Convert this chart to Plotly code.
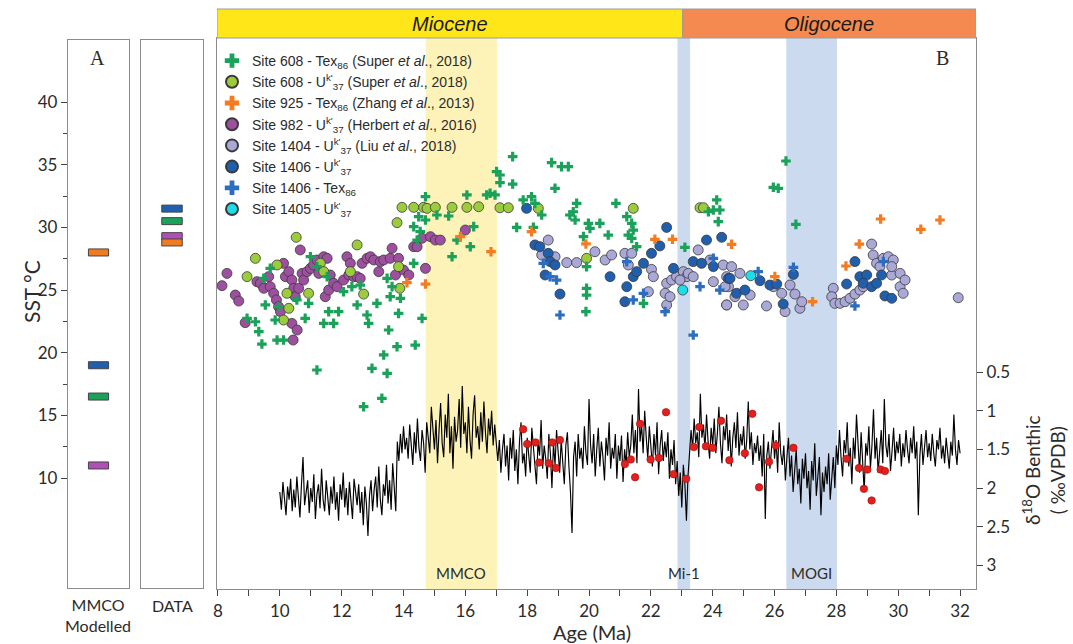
import plotly.graph_objects as go

# ---------------------------------------------------------------- data
# Modelled MMCO SST (panel A) and proxy SST summary (DATA panel), deg C
model_colors = ["#F07C22", "#1F5FAD", "#1AA25A", "#B04FB8"]
model_sst = [28.0, 19.0, 16.5, 11.0]
data_colors = ["#1F5FAD", "#1AA25A", "#B04FB8", "#F07C22"]
data_sst = [31.5, 30.5, 29.3, 28.8]

# Site 608 - TEX86
s608_tex_age = [14.71, 16.05, 14.49, 14.71, 15.08, 15.46, 14.33, 14.54, 14.44, 15.73, 16.16, 15.57, 16.27,
                9.69, 9.48, 8.94, 9.21, 9.32, 9.42, 9.91, 10.12, 9.85, 9.96, 9.53, 10.55, 10.82, 10.93,
                10.99, 11.20, 11.53, 11.58, 11.42, 11.74, 11.90, 12.06, 12.33, 12.60, 12.50, 12.82, 12.87,
                13.14, 13.57, 13.63, 13.84, 13.52, 13.79, 14.38, 14.60, 13.36, 12.98, 13.47, 13.30, 12.71,
                11.20, 13.90, 14.33, 13.47,
                17.53, 17.01, 17.12, 17.12, 17.53, 16.69, 16.80, 16.96, 18.79, 19.11, 19.33, 18.90, 17.87,
                18.14, 18.25, 18.47, 17.66, 18.20, 19.60, 19.49, 19.38, 19.55, 19.98, 20.35, 20.03, 20.62,
                19.82, 19.92, 19.92, 19.92, 19.90, 20.87, 21.22, 21.38, 21.43, 21.27, 21.38, 21.54, 21.76,
                23.10, 24.13, 24.02, 24.23, 24.18, 23.86, 26.37, 25.96, 26.12, 26.69]
s608_tex_sst = [32.45, 32.59, 30.86, 30.59, 30.99, 30.91, 30.06, 29.66, 28.99, 28.99, 28.46, 27.66, 30.06,
                26.73, 25.93, 22.74, 22.47, 21.68, 20.69, 21.01, 21.01, 22.61, 23.67, 23.81, 24.21, 22.74, 23.94,
                27.66, 26.87, 26.07, 23.28, 22.34, 22.34, 23.28, 24.87, 25.27, 25.40, 23.81, 23.01, 22.34,
                23.94, 24.47, 25.27, 23.14, 21.81, 20.48, 20.61, 22.74, 19.82, 18.75, 18.35, 16.36, 15.69,
                18.62, 24.34, 27.13, 25.93,
                35.65, 34.45, 34.18, 33.57, 33.46, 32.59, 32.72, 32.59, 35.17, 34.85, 34.85, 33.12, 32.19,
                32.45, 31.92, 30.99, 30.00, 30.00, 31.92, 31.25, 30.99, 30.59, 30.32, 30.32, 29.92, 29.39,
                29.26, 26.87, 25.14, 24.60, 23.28, 31.92, 30.86, 30.32, 29.79, 29.39, 29.13, 28.46, 23.94,
                28.41, 32.19, 31.39, 31.39, 30.46, 31.25, 35.30, 33.20, 33.12, 30.24]

# Site 608 - UK'37
s608_uk_age = [8.94, 9.21, 9.91, 10.23, 10.29, 10.12, 10.53, 10.93, 11.31, 11.42, 12.28, 12.50, 12.71,
               13.84, 13.88, 13.79, 13.95, 14.33, 14.65, 14.76, 15.03, 15.57, 16.05, 16.43, 17.12, 17.39,
               18.36, 19.92, 21.43, 23.59, 23.70]
s608_uk_sst = [26.07, 27.53, 27.00, 24.74, 23.54, 22.61, 29.21, 24.74, 27.13, 26.47, 26.47, 28.60, 24.68,
               26.87, 25.14, 30.38, 31.60, 31.60, 31.60, 31.52, 31.60, 31.60, 31.60, 31.65, 31.57, 31.57,
               31.52, 27.53, 31.52, 31.57, 31.57]

# Site 925 - TEX86
s925_age = [14.11, 14.71, 15.84, 16.83, 18.14, 19.90, 22.13, 22.70, 24.61, 26.01, 27.23, 28.31, 28.74,
            29.43, 30.73, 31.35]
s925_sst = [25.59, 25.48, 29.26, 28.06, 29.66, 28.68, 29.05, 29.05, 28.65, 26.07, 24.07, 26.92, 28.67,
            30.67, 29.85, 30.59]

# Site 982 - UK'37
s982_age = [8.13, 8.29, 8.56, 8.67, 8.88, 9.26, 9.37, 9.48, 9.64, 9.69, 9.80, 9.89, 9.96, 10.02, 10.12,
            10.18, 10.29, 10.39, 10.45, 10.50, 10.39, 10.43, 10.56, 10.61, 10.66, 10.72, 10.77, 10.88,
            10.99, 11.09, 11.20, 11.26, 11.42, 11.53, 11.47, 11.58, 11.63, 11.74, 11.85, 12.06, 12.17,
            12.23, 12.28, 12.39, 12.50, 12.60, 12.66, 12.82, 12.93, 13.04, 13.20, 13.25, 13.36, 13.57,
            13.63, 13.74, 13.84, 14.00, 14.17, 14.33, 14.44, 14.60, 14.71, 14.87, 15.03, 15.19, 16.00]
s982_sst = [25.35, 26.33, 24.60, 24.12, 22.40, 25.67, 25.54, 25.14, 26.07, 25.27, 24.74, 24.21, 23.67,
            23.28, 27.13, 26.07, 26.47, 25.80, 25.14, 24.47, 22.34, 21.01, 21.81, 25.14, 28.20, 26.33,
            25.80, 26.47, 26.73, 27.00, 27.40, 26.33, 27.66, 27.53, 24.47, 25.00, 26.20, 25.54, 25.27,
            25.80, 27.66, 26.20, 27.13, 26.07, 26.07, 25.93, 27.13, 27.53, 27.66, 27.40, 26.47, 27.27,
            27.40, 27.53, 28.33, 26.20, 27.53, 26.60, 26.20, 28.46, 28.46, 29.13, 26.73, 29.26, 28.99,
            28.99, 29.79]

# Site 1404 - UK'37
s1404_age = [18.68, 18.47, 18.90, 19.28, 19.60, 20.19, 20.52, 20.73, 21.16, 21.38, 21.27, 22.02, 22.08,
             21.92, 22.51, 22.67, 22.83, 23.05, 23.16, 22.46, 22.51, 22.62, 22.94, 23.21, 23.37, 23.53,
             23.91, 24.02, 24.34, 24.51, 24.45,
             24.61, 24.45, 24.40, 24.45, 24.72, 24.88, 24.99, 25.21, 25.74, 25.96, 26.23, 26.50, 26.34,
             26.66, 26.82, 26.88, 27.90, 27.85, 27.95, 28.12, 28.28, 28.44, 28.60, 28.76, 28.87, 29.14,
             29.19, 29.30, 29.52, 29.68, 29.84, 29.79, 30.06, 30.06, 30.16, 30.22, 31.94, 29.79, 29.41]
s1404_sst = [28.99, 27.80, 27.66, 27.19, 27.19, 28.06, 27.40, 27.80, 27.93, 27.93, 27.00, 26.65, 26.07,
             24.87, 25.54, 25.80, 26.07, 26.47, 26.07, 24.74, 23.81, 24.47, 25.80, 26.33, 26.07, 28.20,
             27.40, 25.67, 27.00, 25.27, 23.81,
             26.87, 26.07, 25.27, 23.81, 24.47, 26.33, 23.81, 24.60, 23.73, 25.27, 24.74, 25.40, 23.28,
             24.68, 23.54, 24.07, 25.14, 24.47, 23.94, 23.94, 24.07, 24.34, 24.68, 25.00, 25.27, 28.67,
             27.80, 27.13, 27.53, 27.66, 27.40, 26.20, 26.33, 25.27, 24.74, 25.80, 24.39, 26.87, 26.87]

# Site 1406 - UK'37
s1406_uk_age = [17.98, 18.25, 18.41, 18.68, 18.74, 18.90, 18.58, 19.06, 20.68, 21.22, 21.16, 21.43, 21.54,
                21.76, 22.02, 22.29, 22.51, 22.73, 23.37, 23.64, 23.80, 24.02, 24.29, 24.51,
                24.56, 24.77, 25.04, 25.53, 25.85, 26.07, 26.28, 26.61, 28.60, 28.33, 28.76, 28.98, 28.87,
                29.14, 29.30, 29.46, 29.57, 29.79]
s1406_uk_sst = [31.52, 28.60, 28.46, 27.93, 27.27, 27.00, 26.20, 24.68, 26.07, 25.27, 24.07, 26.07, 26.47,
                27.13, 27.93, 28.52, 30.00, 26.73, 27.27, 27.13, 28.99, 26.87, 29.21, 25.93,
                25.93, 24.74, 25.00, 25.75, 25.40, 25.48, 23.89, 26.25, 27.27, 25.48, 26.07, 26.20, 25.54,
                25.27, 25.54, 26.20, 24.53, 24.34]

# Site 1406 - TEX86
s1406_tex_age = [18.52, 18.95, 19.06, 18.74, 21.22, 21.43, 21.76, 22.46, 23.37, 23.59, 24.02, 24.23,
                 25.47, 26.61, 28.60, 29.52]
s1406_tex_sst = [27.13, 25.80, 23.01, 26.07, 27.27, 24.21, 24.74, 23.28, 21.41, 25.27, 27.53, 25.00,
                 26.47, 26.81, 23.73, 27.27]

# Site 1405 - UK'37
s1405_age = [23.03, 25.23]
s1405_sst = [25.00, 26.15]

# Benthic d18O record (per mil VPDB), one value every 0.05 Myr from 10.0 Ma
d18o_first_age = 10.0
d18o_spacing = 0.05
d18o = [
    2.05, 2.28, 1.92, 2.20, 2.35, 1.98, 2.15, 1.88, 2.30, 2.02,
    2.25, 1.85, 2.12, 2.38, 1.95, 1.60, 2.22, 2.05, 1.90, 2.32,
    2.00, 2.18, 1.82, 2.40, 2.08, 1.95, 2.26, 1.75, 2.15, 2.30,
    1.90, 2.12, 2.35, 1.98, 2.20, 1.85, 2.28, 2.05, 2.42, 1.95,
    2.15, 1.80, 2.25, 2.00, 2.35, 1.92, 2.18, 2.40, 1.88, 2.10,
    2.22, 1.95, 2.32, 2.05, 2.48, 1.98, 2.20, 2.62, 2.10, 1.90,
    2.30, 2.02, 1.85, 2.25, 1.72, 2.15, 2.35, 1.95, 2.10, 1.70,
    2.20, 1.90, 2.28, 1.68, 2.05, 2.30, 1.40, 1.65, 1.30, 1.55,
    1.20, 1.50, 1.35, 1.62, 1.18, 1.45, 1.70, 1.28, 1.55, 1.10,
    1.48, 1.65, 1.25, 1.42, 1.80, 1.15, 1.38, 1.55, 0.95, 1.30,
    1.50, 1.12, 1.68, 1.25, 0.90, 1.42, 1.60, 1.05, 1.35, 0.78,
    1.55, 1.20, 1.75, 1.08, 1.40, 1.25, 0.85, 1.48, 0.68, 1.30,
    1.15, 1.55, 0.95, 1.38, 1.62, 1.05, 0.80, 1.35, 1.20, 1.50,
    1.02, 1.40, 0.88, 1.28, 1.55, 1.10, 1.32, 1.00, 1.45, 1.18,
    1.40, 1.65, 1.38, 1.80, 1.50, 1.30, 1.72, 1.45, 1.90, 1.35,
    1.62, 1.25, 1.78, 1.50, 1.95, 1.40, 1.15, 1.68, 1.55, 1.85,
    1.35, 1.60, 1.80, 1.22, 1.50, 1.70, 1.95, 1.40, 1.58, 1.12,
    1.75, 1.45, 1.62, 1.88, 1.30, 1.55, 2.00, 1.42, 1.70, 1.25,
    1.52, 1.80, 1.38, 1.65, 1.95, 1.45, 1.28, 1.72, 2.05, 2.58,
    1.60, 1.40, 1.85, 1.30, 1.62, 1.48, 1.75, 1.20, 1.55, 1.70,
    0.85, 1.45, 1.68, 1.30, 1.85, 1.50, 1.22, 1.72, 1.40, 1.60,
    1.90, 1.35, 1.58, 1.15, 1.75, 1.48, 1.62, 1.30, 1.88, 1.45,
    1.65, 1.32, 1.92, 1.50, 1.70, 1.28, 1.60, 1.45, 1.05, 1.55,
    1.25, 1.68, 0.72, 1.40, 1.18, 1.55, 1.00, 1.35, 1.62, 1.20,
    1.50, 1.72, 1.30, 1.58, 1.15, 1.82, 1.45, 1.25, 1.65, 1.40,
    1.60, 1.28, 1.88, 1.50, 1.70, 1.38, 1.95, 1.65, 2.10, 1.80,
    2.25, 1.70, 1.95, 2.42, 1.85, 1.60, 1.25, 1.50, 1.10, 1.42,
    1.28, 1.60, 0.78, 1.35, 1.18, 1.50, 1.05, 1.40, 1.62, 1.22,
    1.45, 1.10, 1.55, 1.30, 0.95, 1.42, 1.68, 1.20, 1.38, 1.05,
    1.52, 1.25, 1.72, 1.35, 1.15, 1.48, 1.02, 1.58, 1.30, 1.45,
    1.20, 1.62, 1.38, 0.88, 1.50, 1.28, 1.70, 1.42, 1.55, 1.32,
    1.65, 1.45, 1.85, 1.30, 2.40, 1.58, 1.40, 1.75, 1.50, 1.25,
    1.62, 1.38, 1.80, 1.15, 1.55, 1.70, 1.45, 1.90, 1.60, 1.35,
    1.85, 1.58, 2.05, 1.70, 1.50, 1.95, 1.75, 2.20, 1.62, 1.88,
    1.55, 2.00, 1.78, 2.28, 1.65, 1.90, 1.42, 2.10, 1.85, 1.60,
    2.35, 1.80, 2.05, 1.72, 1.95, 1.55, 2.15, 1.80, 1.60, 2.00,
    1.45, 1.70, 1.25, 1.60, 1.85, 1.38, 1.55, 1.15, 1.72, 1.48,
    1.95, 1.35, 1.62, 1.05, 1.50, 1.80, 1.28, 1.65, 2.05, 1.42,
    1.58, 1.20, 1.75, 1.45, 0.98, 1.62, 1.35, 1.80, 1.50, 1.25,
    1.68, 0.85, 1.45, 1.60, 1.30, 1.78, 1.52, 1.22, 1.65, 1.40,
    1.55, 1.30, 1.72, 1.42, 1.60, 1.25, 1.50, 1.68, 1.35, 1.55,
    1.20, 1.62, 1.40, 2.35, 1.58, 1.30, 1.70, 1.45, 1.25, 1.60,
    1.42, 1.65, 1.30, 1.55, 1.72, 1.38, 1.50, 1.22, 1.62, 1.45,
    1.68, 1.35, 1.55, 1.75, 1.40, 1.58, 1.05, 1.50, 1.70, 1.38,
    1.55,
]
d18o_age = [round(d18o_first_age + i * d18o_spacing, 3) for i in range(len(d18o))]

# Discrete benthic d18O measurements
d18o_pts_age = [17.87, 18.00, 18.27, 18.81, 19.06, 18.39, 18.70, 18.93,
                21.16, 21.35, 21.49, 21.65, 21.99, 22.26, 22.49, 22.73, 23.14, 23.39, 23.57, 23.78,
                24.00, 24.27, 24.54, 25.04, 25.28, 25.50, 25.82, 26.04, 26.61, 28.33, 28.73, 28.89,
                29.00, 29.14, 29.43, 29.57]
d18o_pts = [1.24, 1.43, 1.41, 1.41, 1.38, 1.67, 1.68, 1.74,
            1.69, 1.63, 1.86, 1.17, 1.63, 1.61, 1.02, 1.82, 1.88, 1.47, 1.21, 1.46,
            1.48, 1.13, 1.64, 1.55, 1.04, 1.99, 1.66, 1.45, 1.48, 1.62, 1.74, 2.01,
            1.76, 2.16, 1.76, 1.78]

# Geological epochs and climate events (Ma)
age_min, age_max = 7.968, 32.515
epoch_names = ["Miocene", "Oligocene"]
epoch_edges = [age_min, 23.03, age_max]
epoch_colors = ["#FFE619", "#F58A50"]
event_names = ["MMCO", "Mi-1", "MOGI"]
event_start = [14.72, 22.86, 26.38]
event_end = [17.02, 23.27, 28.02]
event_colors = ["#FDF3B8", "#CCDAEF", "#CCDAEF"]

# ---------------------------------------------------------------- layout helpers
W, H = 1073, 644
def fx(p):
    return p / W
def fy(p):
    return 1 - p / H

AX_FONT = "Lato, 'Open Sans', sans-serif"
LEG_FONT = "'Liberation Sans', Arial, sans-serif"
TXT = "#2b2b2b"
FRAME = "#8c8c8c"

main_y_dom = [fy(589), fy(38)]
side_y_dom = [fy(588), fy(40)]
sst_range = [10 - (589 - 478) / 12.53, 10 + (478 - 38) / 12.53]
side_range = [10 - (588 - 478) / 12.53, 10 + (478 - 40) / 12.53]
d18o_range = [0.5 + (589 - 372) / 77.4, 0.5 + (38 - 372) / 77.4]

fig = go.Figure()

# ---- modelled / data summary bars
bar_half = 0.28
fig.add_trace(go.Bar(x=[0] * len(model_sst), y=[2 * bar_half] * len(model_sst),
                     base=[v - bar_half for v in model_sst], width=0.66,
                     marker=dict(color=model_colors, line=dict(color="#444", width=1)),
                     xaxis="x2", yaxis="y2", showlegend=False, hoverinfo="skip"))
fig.add_trace(go.Bar(x=[0] * len(data_sst), y=[2 * bar_half] * len(data_sst),
                     base=[v - bar_half for v in data_sst], width=0.66,
                     marker=dict(color=data_colors, line=dict(color="#444", width=1)),
                     xaxis="x4", yaxis="y4", showlegend=False, hoverinfo="skip"))

# ---- benthic d18O record
fig.add_trace(go.Scatter(x=d18o_age, y=d18o, mode="lines", yaxis="y3",
                         line=dict(color="#000000", width=1.15),
                         showlegend=False, hoverinfo="skip"))
fig.add_trace(go.Scatter(x=d18o_pts_age, y=d18o_pts, mode="markers", yaxis="y3",
                         marker=dict(color="#E3201B", size=7.5, line=dict(color="#9a1010", width=0.6)),
                         showlegend=False))

# ---- SST proxy series
circ_line = dict(color="#3a3a3a", width=0.8)
series = [
    # name, ages, sst, symbol, colour, legend rank
    ("Site 982 - U<sup>k'</sup><sub>37</sub> (Herbert <i>et al</i>., 2016)", s982_age, s982_sst, "circle", "#9E4FA0", 4),
    ("Site 608 - U<sup>k'</sup><sub>37</sub> (Super <i>et al</i>., 2018)", s608_uk_age, s608_uk_sst, "circle", "#9CCB3C", 2),
    ("Site 1404 - U<sup>k'</sup><sub>37</sub> (Liu <i>et al</i>., 2018)", s1404_age, s1404_sst, "circle", "#A9A8D6", 5),
    ("Site 1406 - U<sup>k'</sup><sub>37</sub>", s1406_uk_age, s1406_uk_sst, "circle", "#1F5FAD", 6),
    ("Site 608 - Tex<sub>86</sub> (Super <i>et al</i>., 2018)", s608_tex_age, s608_tex_sst, "cross", "#1AA25A", 1),
    ("Site 925 - Tex<sub>86</sub> (Zhang <i>et al</i>., 2013)", s925_age, s925_sst, "cross", "#F47B20", 3),
    ("Site 1406 - Tex<sub>86</sub>", s1406_tex_age, s1406_tex_sst, "cross", "#2C6DC0", 7),
    ("Site 1405 - U<sup>k'</sup><sub>37</sub>", s1405_age, s1405_sst, "circle", "#1FDDE8", 8),
]
for name, ages, sst, sym, col, rank in series:
    if sym == "circle":
        mk = dict(symbol="circle", size=10, color=col, line=circ_line)
    else:
        mk = dict(symbol="cross", size=8, color=col, line=dict(width=0))
    fig.add_trace(go.Scatter(x=ages, y=sst, mode="markers", name=name, marker=mk,
                             legendrank=rank, xaxis="x", yaxis="y"))

# ---- shapes: event bands and epoch header
shapes = []
for s, e, c in zip(event_start, event_end, event_colors):
    shapes.append(dict(type="rect", xref="x", yref="paper", x0=s, x1=e,
                       y0=main_y_dom[0], y1=main_y_dom[1], fillcolor=c, line=dict(width=0),
                       layer="below"))
for i, name in enumerate(epoch_names):
    shapes.append(dict(type="rect", xref="x", yref="paper", x0=epoch_edges[i], x1=epoch_edges[i + 1],
                       y0=fy(38), y1=fy(9), fillcolor=epoch_colors[i],
                       line=dict(color="#9a9a9a", width=1)))

annotations = []
for i, name in enumerate(epoch_names):
    annotations.append(dict(x=(epoch_edges[i] + epoch_edges[i + 1]) / 2, y=fy(24), xref="x", yref="paper",
                            text=f"<i>{name}</i>", showarrow=False,
                            font=dict(family=LEG_FONT, size=20, color="#1a1a1a"),
                            xanchor="center", yanchor="middle"))
for name, s, e in zip(event_names, event_start, event_end):
    annotations.append(dict(x=(s + e) / 2, y=fy(573), xref="x", yref="paper", text=name,
                            showarrow=False, font=dict(family=AX_FONT, size=15, color=TXT),
                            xanchor="center", yanchor="middle"))

def txt(x, y, t, size, fam=AX_FONT, angle=0):
    annotations.append(dict(x=fx(x), y=fy(y), xref="paper", yref="paper", text=t, showarrow=False,
                            textangle=angle, font=dict(family=fam, size=size, color=TXT),
                            xanchor="center", yanchor="middle"))

txt(98, 58, "A", 20, fam="'Liberation Serif', serif")
txt(942, 58, "B", 20, fam="'Liberation Serif', serif")
txt(98, 615, "MMCO<br>Modelled", 16)
txt(172, 605, "DATA", 16)
txt(31, 292, "SST °C", 21, angle=-90)
txt(1044, 470, "δ<sup>18</sup>O Benthic<br>( ‰VPDB)", 19, angle=-90)
txt(592, 632, "Age (Ma)", 20)

# ---------------------------------------------------------------- axes
tick_font = dict(family=AX_FONT, size=17, color=TXT)
box_axis = dict(showline=True, linecolor=FRAME, linewidth=1.3, mirror=True,
                showgrid=False, zeroline=False, automargin=False)

age_ticks = list(range(8, 33))
fig.update_layout(
    width=W, height=H,
    margin=dict(l=0, r=0, t=0, b=0),
    paper_bgcolor="white", plot_bgcolor="rgba(0,0,0,0)",
    barmode="overlay",
    showlegend=True,
    legend=dict(x=fx(212), y=fy(45), xanchor="left", yanchor="top",
                bgcolor="rgba(0,0,0,0)", font=dict(family=LEG_FONT, size=14, color=TXT),
                traceorder="normal", itemsizing="constant"),
    shapes=shapes, annotations=annotations,
    xaxis=dict(domain=[fx(217), fx(976)], range=[age_min, age_max], anchor="y",
               tickvals=age_ticks, ticktext=[str(t) if t % 2 == 0 else "" for t in age_ticks],
               ticks="outside", ticklen=6, tickwidth=1, tickcolor="#444", tickfont=tick_font,
               **box_axis),
    yaxis=dict(domain=main_y_dom, range=sst_range, anchor="x", showticklabels=False, ticks="",
               **box_axis),
    yaxis3=dict(overlaying="y", side="right", anchor="x", range=d18o_range,
                tickvals=[0.5, 1, 1.5, 2, 2.5, 3], ticktext=["0.5", "1", "1.5", "2", "2.5", "3"],
                ticks="outside", ticklen=6, tickwidth=1, tickcolor="#444", tickfont=tick_font,
                showline=False, showgrid=False, zeroline=False, automargin=False),
    xaxis2=dict(domain=[fx(68), fx(129)], range=[-1, 1], anchor="y2", showticklabels=False,
                ticks="", **box_axis),
    yaxis2=dict(domain=side_y_dom, range=side_range, anchor="x2",
                tickvals=[10, 15, 20, 25, 30, 35, 40], ticks="outside", ticklen=6, tickwidth=1,
                tickcolor="#444", tickfont=tick_font,
                minor=dict(tickvals=[12.5, 17.5, 22.5, 27.5, 32.5, 37.5], ticks="outside",
                           ticklen=4, tickcolor="#444"),
                **box_axis),
    xaxis4=dict(domain=[fx(141), fx(203)], range=[-1, 1], anchor="y4", showticklabels=False,
                ticks="", **box_axis),
    yaxis4=dict(domain=side_y_dom, range=side_range, anchor="x4", showticklabels=False, ticks="",
                **box_axis),
)

fig.write_html("out.html")
